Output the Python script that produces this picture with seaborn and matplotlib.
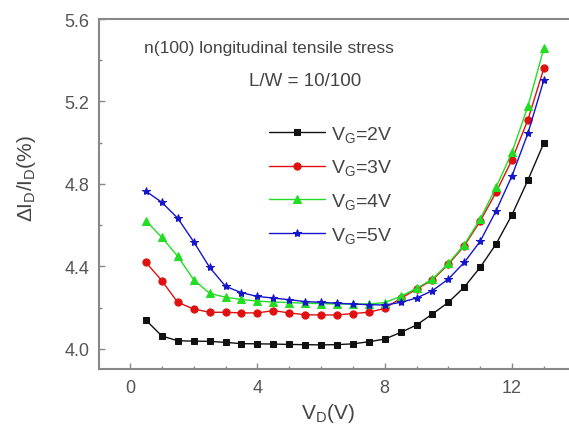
import matplotlib
matplotlib.use("Agg")
import matplotlib.pyplot as plt
import seaborn as sns
import pandas as pd
from matplotlib.ticker import MultipleLocator

sns.set_style("ticks")
plt.rcParams['font.family'] = ['Liberation Sans', 'DejaVu Sans']
plt.rcParams['mathtext.fontset'] = 'custom'
plt.rcParams['mathtext.rm'] = 'Liberation Sans'
plt.rcParams['mathtext.it'] = 'Liberation Sans'

vd = [0.5, 1.0, 1.5, 2.0, 2.5, 3.0, 3.5, 4.0, 4.5, 5.0, 5.5, 6.0, 6.5,
      7.0, 7.5, 8.0, 8.5, 9.0, 9.5, 10.0, 10.5, 11.0, 11.5, 12.0, 12.5, 13.0]
vg2 = [4.14, 4.063, 4.04, 4.038, 4.037, 4.032, 4.026, 4.025, 4.024, 4.022, 4.021, 4.02, 4.021,
       4.025, 4.035, 4.048, 4.08, 4.116, 4.17, 4.226, 4.30, 4.396, 4.509, 4.651, 4.819, 4.999]
vg3 = [4.42, 4.331, 4.226, 4.194, 4.178, 4.178, 4.175, 4.175, 4.186, 4.175, 4.166, 4.165, 4.165,
       4.172, 4.178, 4.197, 4.245, 4.29, 4.335, 4.41, 4.50, 4.62, 4.76, 4.918, 5.112, 5.361]
vg4 = [4.622, 4.541, 4.449, 4.336, 4.27, 4.251, 4.24, 4.232, 4.228, 4.225, 4.222, 4.22, 4.218,
       4.218, 4.218, 4.225, 4.255, 4.294, 4.339, 4.415, 4.506, 4.63, 4.784, 4.954, 5.177, 5.458]
vg5 = [4.765, 4.711, 4.634, 4.52, 4.396, 4.304, 4.273, 4.255, 4.247, 4.239, 4.23, 4.226, 4.222,
       4.218, 4.215, 4.213, 4.226, 4.247, 4.283, 4.339, 4.42, 4.522, 4.67, 4.84, 5.046, 5.304]
labels = [r'V$_\mathrm{G}$=2V', r'V$_\mathrm{G}$=3V', r'V$_\mathrm{G}$=4V', r'V$_\mathrm{G}$=5V']
series = [vg2, vg3, vg4, vg5]

rows = []
for lab, ys in zip(labels, series):
    for x, y in zip(vd, ys):
        rows.append({'VD': x, 'dI': y, 'VG': lab})
df = pd.DataFrame(rows)

colors = ['#111111', '#e01010', '#22dd22', '#1515cc']
markers = ['s', 'o', '^', '*']
msizes = [4.2, 5.2, 5.5, 6.0]

fig = plt.figure(figsize=(5.69, 4.27), dpi=100)
ax = fig.add_axes([99/569, 57/427, 1 - 99/569, 350/427])

for lab, c, m, ms in zip(labels, colors, markers, msizes):
    sns.lineplot(data=df[df['VG'] == lab], x='VD', y='dI', color=c, marker=m,
                 markersize=ms, markeredgecolor=c, linewidth=1.0, label=lab, ax=ax)

ax.set_xlim(-0.974, 13.79)
ax.set_ylim(3.903, 5.6)
ax.xaxis.set_major_locator(MultipleLocator(4))
ax.xaxis.set_minor_locator(MultipleLocator(1))
ax.yaxis.set_major_locator(MultipleLocator(0.4))
ax.yaxis.set_minor_locator(MultipleLocator(0.2))
ax.yaxis.set_major_formatter(matplotlib.ticker.FormatStrFormatter('%.1f'))
ax.tick_params(which='both', direction='in', colors='#888888', labelcolor='#555555', labelsize=13)
ax.tick_params(which='major', length=4, width=1, pad=7)
ax.tick_params(which='minor', length=2.5, width=1)
for s in ['left', 'bottom', 'top']:
    ax.spines[s].set_color('#888888')
    ax.spines[s].set_linewidth(1.5)
ax.spines['right'].set_visible(False)

ax.set_xlabel(r'V$_\mathrm{D}$(V)', fontsize=15, color='#444444')
ax.set_ylabel(r'$\Delta$I$_\mathrm{D}$/I$_\mathrm{D}$(%)', fontsize=15, color='#444444')
ax.xaxis.set_label_coords(0.487, -0.091)
ax.yaxis.set_label_coords(-0.130, 0.546)

fig.text(269/569, 1 - 49/427, 'n(100) longitudinal tensile stress', ha='center', va='center',
         fontsize=12.5, color='#444444')
fig.text(305/569, 1 - 81/427, 'L/W = 10/100', ha='center', va='center',
         fontsize=13.5, color='#444444')

leg = ax.legend(loc='upper left', bbox_to_anchor=(259/569, 1 - 115/427),
                bbox_transform=fig.transFigure, frameon=False, fontsize=14,
                handlelength=2.9, handletextpad=0.3, labelspacing=0.7, borderpad=0)
for t in leg.get_texts():
    t.set_color('#444444')

fig.savefig('out.png', dpi=100)
